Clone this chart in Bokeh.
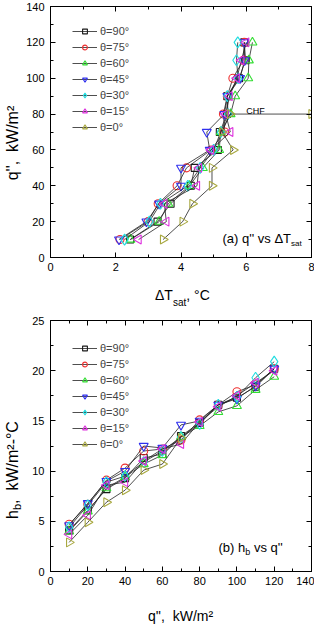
from math import pi
from bokeh.plotting import figure
from bokeh.models import Range1d, LinearAxis, Legend, LegendItem, Label, FixedTicker, Div
from bokeh.layouts import column
from bokeh.embed import file_html
from bokeh.resources import INLINE

FONT = "Liberation Sans"
SERIF = "Liberation Serif"

series_labels = ["θ=90°", "θ=75°", "θ=60°", "θ=45°", "θ=30°", "θ=15°", "θ=0°"]
q_levels = [10, 20, 30, 40, 50, 60, 70, 80, 90, 100, 110, 120]

# (a) wall superheat dT_sat (°C) at each heat flux
dT_90 = [2.44, 3.28, 3.68, 4.30, 4.42, 5.13, 5.19, 5.41, 5.42, 5.78, 5.98, 5.94]
dT_75 = [2.13, 2.99, 3.30, 3.88, 4.17, 4.92, 5.34, 5.30, 5.42, 5.59, 5.91, 5.94]
dT_60 = [2.45, 3.33, 3.61, 4.26, 4.67, 5.17, 5.22, 5.52, 5.66, 6.06, 6.08, 6.19]
dT_45 = [2.10, 2.94, 3.33, 4.00, 4.00, 4.88, 4.79, 5.33, 5.42, 5.81, 5.95, 5.94]
dT_30 = [2.27, 3.03, 3.37, 4.21, 4.59, 5.00, 5.22, 5.44, 5.42, 5.75, 5.70, 5.74]
dT_15 = [2.70, 3.55, 3.49, 4.49, 4.55, 4.92, 5.51, 5.37, 5.49, 5.71, 5.85, 6.00]
q_0a = [10, 20, 30, 40, 50, 60, 70, 80, 80]
dT_0 = [3.45, 4.05, 4.35, 4.95, 4.95, 5.60, 5.26, 5.50, 8.00]

# (b) boiling heat transfer coefficient h_b (kW/m2-°C)
h_90 = [4.1, 6.1, 8.2, 9.3, 11.3, 11.7, 13.5, 14.8, 16.6, 17.3, 18.4, 20.2]
h_75 = [4.7, 6.7, 9.1, 10.3, 12.0, 12.2, 13.1, 15.1, 16.6, 17.9, 18.6, 20.2]
h_60 = [4.0, 6.0, 8.3, 9.4, 10.7, 11.6, 13.4, 14.5, 15.9, 16.5, 18.1, 19.4]
h_45 = [4.6, 6.8, 9.0, 10.0, 12.5, 12.3, 14.6, 15.0, 16.6, 17.2, 18.5, 20.2]
h_30 = [4.4, 6.6, 8.9, 9.5, 10.9, 12.0, 13.4, 14.7, 16.6, 17.4, 19.3, 20.9]
h_15 = [3.7, 5.6, 8.6, 8.9, 11.0, 12.2, 12.7, 14.9, 16.4, 17.5, 18.8, 20.0]
q_0b = [10, 20, 30, 40, 50, 60, 70]
h_0 = [2.9, 4.9, 6.9, 8.1, 10.1, 10.7, 13.3]

x_ticks_a = [0, 2, 4, 6, 8]
y_ticks_a = [0, 20, 40, 60, 80, 100, 120, 140]
x_ticks_b = [0, 20, 40, 60, 80, 100, 120, 140]
y_ticks_b = [0, 5, 10, 15, 20, 25]

styles = [
    ("square", "#1a1a1a", 0.0, 7),
    ("circle", "#ee3030", 0.0, 8),
    ("triangle", "#33dd33", 0.0, 9),
    ("inverted_triangle", "#3030ee", 0.0, 9),
    ("diamond", "#20dde0", 0.0, 11),
    ("triangle", "#dd30dd", pi / 2, 9),
    ("triangle", "#a8a840", -pi / 2, 9),
]

PAGE_H = 626


def mids(t):
    return [(a + b) / 2 for a, b in zip(t[:-1], t[1:])]


def make_fig(height, xt, yt, top, bottom):
    p = figure(width=314, height=height,
               x_range=Range1d(xt[0], xt[-1]), y_range=Range1d(yt[0], yt[-1]),
               output_backend="svg", toolbar_location=None,
               min_border_left=50, min_border_right=3,
               min_border_top=top, min_border_bottom=bottom)
    p.xgrid.visible = False
    p.ygrid.visible = False
    p.outline_line_color = "black"
    p.background_fill_color = "white"
    p.border_fill_color = "white"
    p.add_layout(LinearAxis(), "above")
    p.add_layout(LinearAxis(), "right")
    for ax in p.xaxis:
        ax.ticker = FixedTicker(ticks=xt, minor_ticks=mids(xt))
    for ax in p.yaxis:
        ax.ticker = FixedTicker(ticks=yt, minor_ticks=mids(yt))
    for ax in p.axis:
        ax.axis_line_color = "black"
        ax.major_tick_line_color = "black"
        ax.minor_tick_line_color = "black"
        ax.major_tick_in = 5
        ax.major_tick_out = 0
        ax.minor_tick_in = 3
        ax.minor_tick_out = 0
        ax.major_label_text_font = FONT
        ax.major_label_text_font_size = "11px"
        ax.major_label_text_color = "black"
    p.xaxis[0].major_label_standoff = 4
    p.yaxis[0].major_label_standoff = 6
    p.above[0].major_label_overrides = {t: "" for t in xt}
    p.right[0].major_label_overrides = {t: "" for t in yt}
    for ax in (p.above[0], p.right[0]):
        ax.major_label_text_font_size = "1px"
        ax.major_label_standoff = 0
    return p


def lab(p, x, y, text, size, units="screen"):
    p.add_layout(Label(x=x, y=y, x_units=units, y_units=units, text=text,
                       text_font=FONT, text_font_size=f"{size}px",
                       text_align="left", text_baseline="alphabetic",
                       text_color="black"))


def add_series(p, xs_list, ys_list, legend_loc, spacing):
    items = []
    for (marker, color, ang, size), xs, ys, name in zip(styles, xs_list, ys_list, series_labels):
        lr = p.line(xs, ys, line_color="#222222", line_width=0.8)
        sr = p.scatter(xs, ys, marker=marker, angle=ang, size=size,
                       line_color=color, fill_color=None, line_width=1.1)
        items.append(LegendItem(label=name, renderers=[lr, sr]))
    leg = Legend(items=items, location=legend_loc, padding=0, margin=0, spacing=spacing,
                 label_height=12, glyph_height=12, glyph_width=25, label_standoff=3,
                 label_text_font=FONT, label_text_font_size="11px",
                 border_line_color=None, background_fill_alpha=0)
    p.add_layout(leg)


# ---------- (a) q'' vs dT_sat ----------
pa = make_fig(300, x_ticks_a, y_ticks_a, 6, 43)
add_series(pa,
           [dT_90, dT_75, dT_60, dT_45, dT_30, dT_15, dT_0],
           [q_levels] * 6 + [q_0a],
           (22, 124), 4)
lab(pa, 6.0, 81.5, "CHF", 9, units="data")
lab(pa, 172, 19, "(a) q'' vs ΔT", 13)
lab(pa, 240.5, 14, "sat", 8)

# ---------- (b) h_b vs q'' ----------
pb = make_fig(326, x_ticks_b, y_ticks_b, 20, 55)
add_series(pb,
           [q_levels] * 6 + [q_0b],
           [h_90, h_75, h_60, h_45, h_30, h_15, h_0],
           (22, 121), 4)
lab(pb, 168, 24, "(b) h", 13)
lab(pb, 194.7, 19.5, "b", 9)
lab(pb, 203.5, 24, "vs q''", 13)

# ---------- axis titles and caption (HTML text over the figure margins) ----------
ASC = 0.92


def rot_text(xb, yc, fs, html):
    return (f'<div style="position:absolute;left:{xb - ASC * fs:.1f}px;top:{yc - PAGE_H:.1f}px;'
            f'transform-origin:0 0;transform:rotate(-90deg) translateX(-50%);white-space:nowrap;'
            f"font-family:'{FONT}';font-size:{fs}px;line-height:normal;color:black\">{html}</div>")


def hor_text(x, yb, fs, html, center=False, font=FONT):
    tr = "transform:translateX(-50%);" if center else ""
    return (f'<div style="position:absolute;left:{x:.1f}px;top:{yb - ASC * fs - PAGE_H:.1f}px;{tr}'
            f"white-space:nowrap;font-family:'{font}';font-size:{fs}px;line-height:normal;color:black\">{html}</div>")


def sub(t, fs, dy):
    return f'<span style="font-size:{fs}px;position:relative;top:{dy}px">{t}</span>'


parts = [
    rot_text(18.5, 131, 16, "q'',&nbsp; kW/m²"),
    hor_text(155, 288, 14, "ΔT" + sub("sat", 10, 6) + ", °C"),
    rot_text(18.5, 458, 16, "h" + sub("b", 11, 3) + ",&nbsp; kW/m²-°C"),
    hor_text(180.5, 609, 14, "q'',&nbsp; kW/m²", center=True),
    hor_text(50, 628, 15, "<b>Fig. 3</b> Curves of experimental data", font=SERIF),
]
html = '<div style="position:relative;width:0;height:0;z-index:10">' + "".join(parts) + "</div>"
notes = Div(text=html, width=314, height=0, margin=0, styles={"overflow": "visible", "z-index": "10"})

layout = column(pa, pb, notes, spacing=0)
open("out.html", "w").write(file_html(layout, INLINE))
